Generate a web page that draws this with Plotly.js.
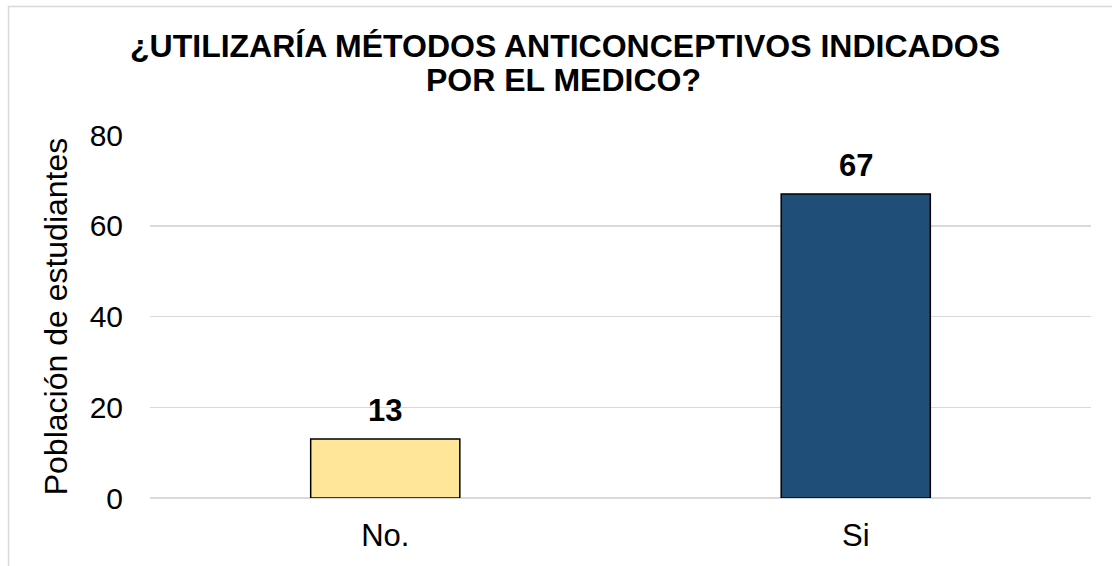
<!DOCTYPE html>
<html>
<head>
<meta charset="utf-8">
<script src="https://cdn.plot.ly/plotly-3.0.1.min.js"></script>
<style>
  html, body { margin: 0; padding: 0; background: #ffffff; }
  #chart { width: 1112px; height: 566px; }
</style>
</head>
<body>
<div id="chart"></div>
<script>
const categories = ["No.", "Si"];
const values = [13, 67];
const barColors = ["#FFE699", "#1F4E79"];
const yTicks = [0, 20, 40, 60, 80];
const titleLine1 = "¿UTILIZARÍA MÉTODOS ANTICONCEPTIVOS INDICADOS";
const titleLine2 = "POR EL MEDICO?";
const yAxisTitle = "Población de estudiantes";

const FONT = "Liberation Sans, Arial, sans-serif";

const trace = {
  type: "bar",
  x: categories,
  y: values,
  marker: { color: barColors, line: { color: "#000000", width: 1.5 } },
  hoverinfo: "x+y"
};

const labelAnnotations = categories.map((c, i) => ({
  x: c, y: values[i], xref: "x", yref: "y",
  text: "<b>" + values[i] + "</b>",
  showarrow: false, yanchor: "bottom", yshift: 9,
  font: { family: FONT, size: 31, color: "#000000" }
}));

const layout = {
  width: 1112, height: 566,
  margin: { l: 150, r: 21, t: 135, b: 68 },
  paper_bgcolor: "#ffffff",
  plot_bgcolor: "#ffffff",
  showlegend: false,
  bargap: 0.683,
  title: {
    text: "<b>" + titleLine1 + "</b>",
    font: { family: FONT, size: 32, color: "#000000" },
    xref: "container", x: 565 / 1112, xanchor: "center",
    yref: "container", y: 1 - 35 / 566, yanchor: "top"
  },
  xaxis: {
    type: "category",
    showgrid: false, zeroline: false, showline: false,
    ticks: "", ticklabelstandoff: 16,
    tickfont: { family: FONT, size: 31, color: "#000000" }
  },
  yaxis: {
    range: [0, 80], tickvals: yTicks, ticktext: yTicks.map(String),
    showgrid: true, gridcolor: "#d9d9d9", gridwidth: 1.5,
    zeroline: true, zerolinecolor: "#d9d9d9", zerolinewidth: 1.5,
    showline: false, ticks: "", ticklabelstandoff: 26,
    tickfont: { family: FONT, size: 30, color: "#000000" },
    title: { text: yAxisTitle, standoff: 12, font: { family: FONT, size: 32, color: "#000000" } }
  },
  annotations: [
    {
      xref: "paper", yref: "paper", x: (563 - 150) / 941, y: (498 - 60) / 363,
      xanchor: "center", yanchor: "top", showarrow: false,
      text: "<b>" + titleLine2 + "</b>",
      font: { family: FONT, size: 32, color: "#000000" }
    }
  ].concat(labelAnnotations),
  shapes: [
    {
      type: "rect", xref: "paper", yref: "paper",
      x0: (8.5 - 150) / 941, x1: 1.2, y0: -0.5, y1: (498 - 6.5) / 363,
      line: { color: "#d9d9d9", width: 1.5 }, fillcolor: "rgba(0,0,0,0)", layer: "below"
    }
  ]
};

Plotly.newPlot("chart", [trace], layout, { displayModeBar: false, staticPlot: true });
</script>
</body>
</html>
